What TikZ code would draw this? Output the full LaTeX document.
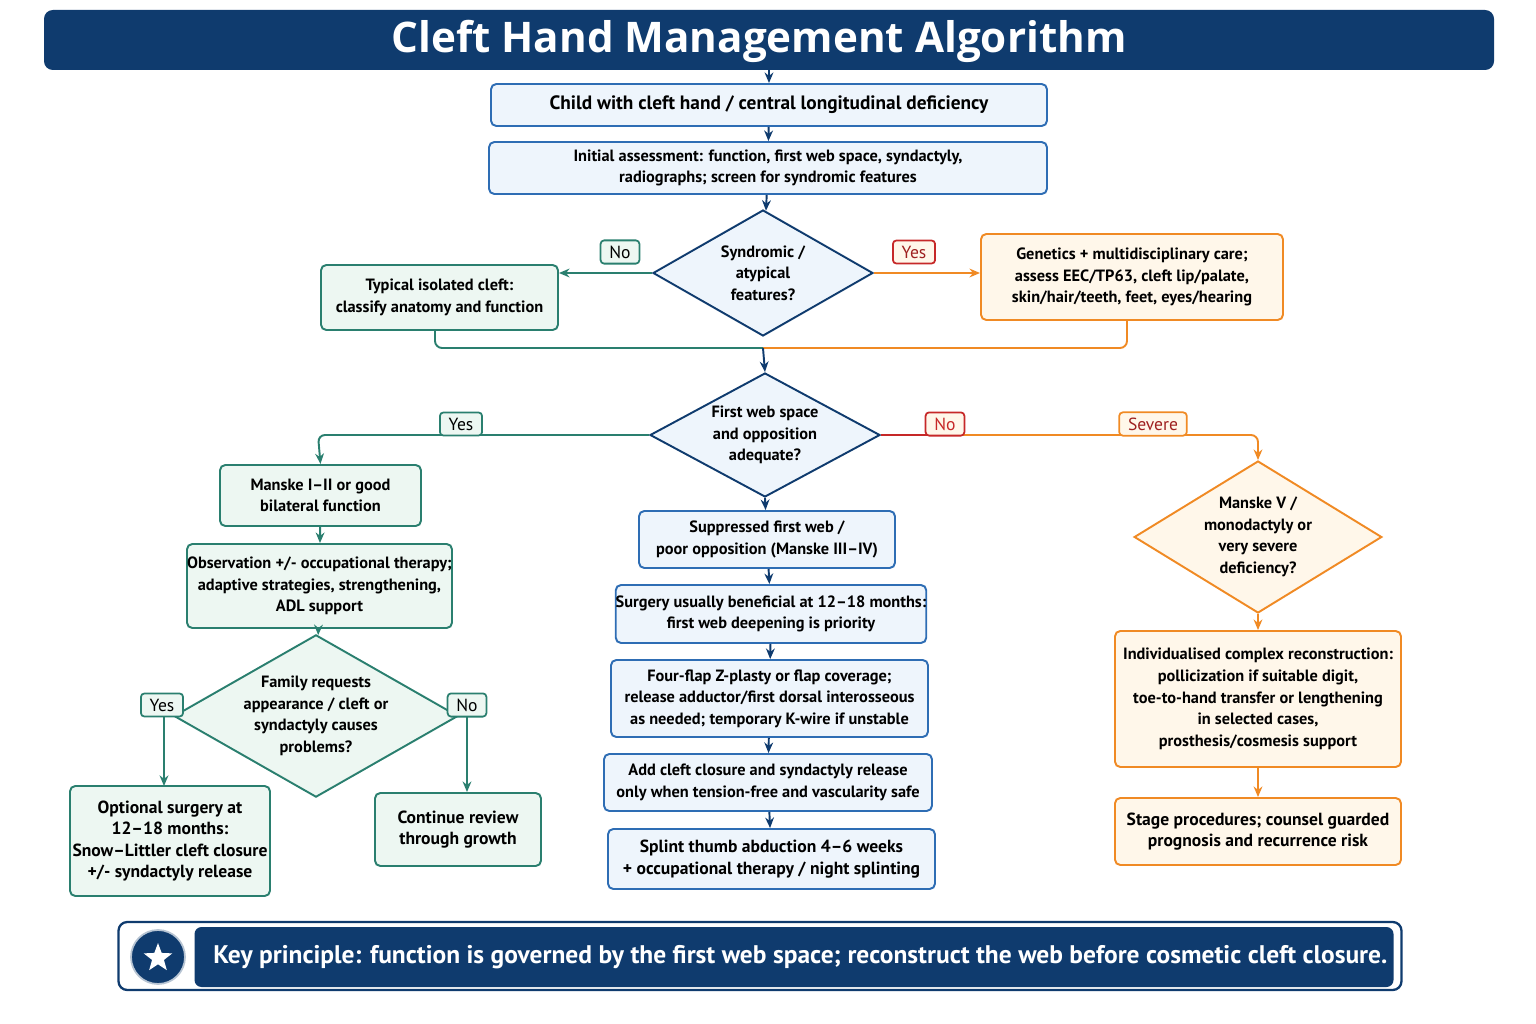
\documentclass[tikz,border=0pt]{standalone}
\usepackage{fontspec}
\setmainfont{PT Sans}
\newfontfamily\titlefont{Open Sans}
\usetikzlibrary{shapes.geometric,arrows.meta,shapes.symbols}
\definecolor{navy}{HTML}{0F3B6E}
\definecolor{bstroke}{HTML}{2E6DB4}
\definecolor{bfill}{HTML}{EEF5FC}
\definecolor{gstroke}{HTML}{2A7F6F}
\definecolor{gfill}{HTML}{EDF7F2}
\definecolor{ostroke}{HTML}{F08A24}
\definecolor{ofill}{HTML}{FFF7EA}
\definecolor{redc}{HTML}{C62828}
\tikzset{
 every node/.style={font=\fontsize{9.3}{12.3}\selectfont, align=center, inner sep=0pt},
 bx/.style={draw=bstroke, fill=bfill, rounded corners=3pt, line width=1.1pt},
 gx/.style={draw=gstroke, fill=gfill, rounded corners=3pt, line width=1.1pt},
 ox/.style={draw=ostroke, fill=ofill, rounded corners=3pt, line width=1.1pt},
 dia/.style={diamond, aspect=1.75, line width=1.1pt},
 arr/.style={-{Stealth[length=6pt,width=5pt]}, line width=1.1pt},
 lab/.style={rounded corners=2pt, line width=1pt, fill=white, inner xsep=5pt, inner ysep=3pt, font=\fontsize{10}{12}\selectfont},
}
\begin{document}
\begin{tikzpicture}[x=0.02cm,y=-0.02cm]
\useasboundingbox (0,0) rectangle (1536,1024);
% title
\node[fill=navy, rounded corners=5pt, minimum width=1450*0.02cm, minimum height=60*0.02cm] (title) at (769,40) {};
\node[text=white, font=\titlefont\bfseries\fontsize{24}{28}\selectfont] at (759,41) {Cleft Hand Management Algorithm};
% boxes helper: rectangles via minimum size
\newcommand{\bxn}[7]{\node[#1, minimum width=(#4-#3)*0.02cm, minimum height=(#6-#5)*0.02cm] (#2) at ({(#3+#4)/2},{(#5+#6)/2}) {#7};}
\bxn{bx}{b1}{491}{1047}{84}{126}{\fontsize{11}{13}\selectfont\bfseries Child with cleft hand / central longitudinal deficiency}
\bxn{bx}{b2}{489}{1047}{142}{194}{\bfseries Initial assessment: function, first web space, syndactyly,\\ \bfseries radiographs; screen for syndromic features}
\node[dia, draw=navy, fill=bfill, minimum width=220*0.02cm, minimum height=126*0.02cm] (d1) at (763,273) {\bfseries Syndromic /\\ \bfseries atypical\\ \bfseries features?};
\bxn{gx}{gl}{321}{558}{265}{330}{\bfseries Typical isolated cleft:\\ \bfseries classify anatomy and function}
\bxn{ox}{or}{981}{1283}{234}{320}{\bfseries Genetics + multidisciplinary care;\\ \bfseries assess EEC/TP63, cleft lip/palate,\\ \bfseries skin/hair/teeth, feet, eyes/hearing}
\node[dia, draw=navy, fill=bfill, minimum width=230*0.02cm, minimum height=124*0.02cm] (d2) at (765,435) {\bfseries First web space\\ \bfseries and opposition\\ \bfseries adequate?};
% left column
\bxn{gx}{m12}{220}{421}{465}{526}{\bfseries Manske I--II or good\\ \bfseries bilateral function}
\bxn{gx}{obs}{187}{452}{544}{628}{\bfseries Observation +/- occupational therapy;\\ \bfseries adaptive strategies, strengthening,\\ \bfseries ADL support}
\node[dia, draw=gstroke, fill=gfill, minimum width=244*0.02cm, minimum height=144*0.02cm] (d3) at (316,716) {\bfseries Family requests\\ \bfseries appearance / cleft or\\ \bfseries syndactyly causes\\ \bfseries problems?};
\bxn{gx}{opt}{70}{270}{786}{896}{\fontsize{10}{13}\selectfont\bfseries Optional surgery at\\ \fontsize{10}{13}\selectfont\bfseries 12--18 months:\\ \fontsize{10}{13}\selectfont\bfseries Snow--Littler cleft closure\\ \fontsize{10}{13}\selectfont\bfseries +/- syndactyly release}
\bxn{gx}{cont}{375}{541}{793}{866}{\fontsize{10}{13}\selectfont\bfseries Continue review\\ \fontsize{10}{13}\selectfont\bfseries through growth}
% middle column
\bxn{bx}{c1}{639}{895}{511}{568}{\bfseries Suppressed first web /\\ \bfseries poor opposition (Manske III--IV)}
\bxn{bx}{c2}{616}{926}{585}{643}{\bfseries Surgery usually beneficial at 12--18 months:\\ \bfseries first web deepening is priority}
\bxn{bx}{c3}{611}{928}{660}{737}{\bfseries Four-flap Z-plasty or flap coverage;\\ \bfseries release adductor/first dorsal interosseous\\ \bfseries as needed; temporary K-wire if unstable}
\bxn{bx}{c4}{604}{932}{754}{811}{\bfseries Add cleft closure and syndactyly release\\ \bfseries only when tension-free and vascularity safe}
\bxn{bx}{c5}{608}{935}{829}{889}{\fontsize{10}{13}\selectfont\bfseries Splint thumb abduction 4--6 weeks\\ \fontsize{10}{13}\selectfont\bfseries + occupational therapy / night splinting}
% right column
\node[dia, draw=ostroke, fill=ofill, minimum width=216*0.02cm, minimum height=152*0.02cm] (d4) at (1258,537) {\bfseries Manske V /\\ \bfseries monodactyly or\\ \bfseries very severe\\ \bfseries deficiency?};
\bxn{ox}{ind}{1115}{1401}{631}{767}{\bfseries Individualised complex reconstruction:\\ \bfseries pollicization if suitable digit,\\ \bfseries toe-to-hand transfer or lengthening\\ \bfseries in selected cases,\\ \bfseries prosthesis/cosmesis support}
\bxn{ox}{stg}{1115}{1401}{798}{865}{\fontsize{10}{13}\selectfont\bfseries Stage procedures; counsel guarded\\ \fontsize{10}{13}\selectfont\bfseries prognosis and recurrence risk}
% connectors
\draw[arr, navy] (title.south -| b1) -- (b1.north);
\draw[arr, navy] (b1) -- (b2);
\draw[arr, navy] (b2) -- (d1);
\draw[arr, gstroke] (d1.west) -- (gl.east |- d1.west) coordinate (gle);
\draw[arr, ostroke] (d1.east) -- (or.west |- d1.east);
\node[lab, draw=gstroke, fill=gfill] (ln1) at (620,252) {No};
\node[lab, draw=redc, fill=ofill, text=redc!80!black] (ly1) at (914,252) {Yes};
\coordinate (mj) at (763,348);
\draw[gstroke, line width=1.1pt, rounded corners=4pt] (gl.south -| 435,0) -- (435,348) -- (mj);
\draw[ostroke, line width=1.1pt, rounded corners=4pt] (or.south -| 1127,0) -- (1127,348) -- (mj);
\draw[arr, navy] (mj) -- (d2.north);
\draw[arr, gstroke, rounded corners=4pt] (d2.west) -- (318,435) -- (m12.north);
\node[lab, draw=gstroke, fill=gfill] at (461,424) {Yes};
\draw[arr, gstroke] (m12) -- (obs);
\draw[arr, gstroke] (obs) -- (d3);
\draw[arr, gstroke] (d3.west) -- (164,716) -- (164,786);
\draw[arr, gstroke] (d3.east) -- (467,716) -- (cont.north -| 467,0);
\node[lab, draw=gstroke, fill=gfill] at (162,705) {Yes};
\node[lab, draw=gstroke, fill=gfill] at (467,705) {No};
\draw[redc, line width=1.1pt] (d2.east) -- (945,435);
\draw[arr, ostroke, rounded corners=4pt] (945,435) -- (1258,435) -- (d4.north);
\node[lab, draw=redc, fill=ofill, text=redc] at (945,424) {No};
\node[lab, draw=ostroke, fill=ofill, text=redc!80!black] at (1153,424) {Severe};
\draw[arr, navy] (d2.south) -- (c1);
\draw[arr, navy] (c1) -- (c2);
\draw[arr, navy] (c2) -- (c3);
\draw[arr, navy] (c3) -- (c4);
\draw[arr, navy] (c4) -- (c5);
\draw[arr, ostroke] (d4.south) -- (ind);
\draw[arr, ostroke] (ind) -- (stg);
% banner
\node[draw=navy, line width=1.3pt, fill=white, rounded corners=5pt, minimum width=1283*0.02cm, minimum height=68*0.02cm] (ban) at (760,956) {};
\node[fill=navy, rounded corners=4pt, minimum width=1199*0.02cm, minimum height=60*0.02cm] (banin) at (794,957) {};
\node[text=white, font=\fontsize{14.5}{16}\selectfont\bfseries, anchor=west] (bantxt) at (213,957) {Key principle: function is governed by the first web space; reconstruct the web before cosmetic cleft closure.};
\node[circle, fill=navy, draw=navy!30, line width=1pt, minimum size=54*0.02cm] (circ) at (158,957) {};
\node[star, star points=5, star point ratio=2.4, fill=white, minimum size=30*0.02cm] (st) at (158,958) {};
\end{tikzpicture}
\end{document}
